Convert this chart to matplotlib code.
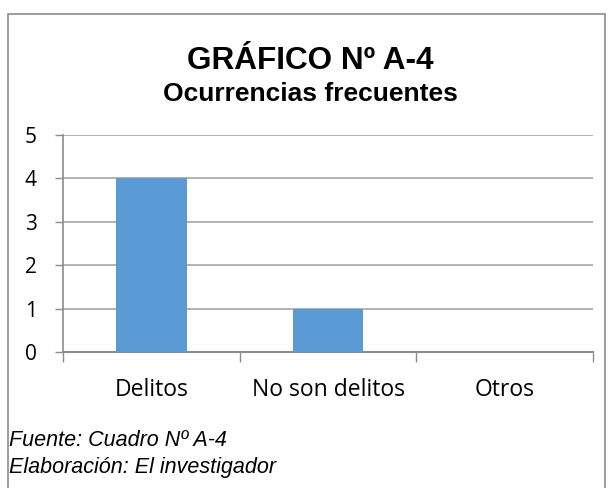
import matplotlib as mpl
mpl.use('Agg')
import matplotlib.pyplot as plt
from matplotlib.patches import Rectangle

categorias = ['Delitos', 'No son delitos', 'Otros']
valores = [4, 1, 0]
yticks = [0, 1, 2, 3, 4, 5]

titulo = 'GRÁFICO Nº A-4'
subtitulo = 'Ocurrencias frecuentes'
fuente = 'Fuente: Cuadro Nº A-4'
elaboracion = 'Elaboración: El investigador'

fig = plt.figure(figsize=(6.12, 4.88), dpi=100)
W, H = 612, 488

# borde del grafico (la parte inferior queda fuera de la imagen)
fig.patches.append(Rectangle((8 / W, -0.05), 597 / W, 1.05 - 14 / H,
                             transform=fig.transFigure, fill=False,
                             edgecolor='#8c8c8c', linewidth=1.2))

ax = fig.add_axes([63 / W, 1 - 352 / H, 530 / W, 217 / H])
x = range(len(categorias))
ax.bar(x, valores, width=0.4, color='#5B9BD5', zorder=3)

ax.set_xlim(-0.5, len(categorias) - 0.5)
ax.set_ylim(0, 5)
ax.set_yticks(yticks)
ax.set_yticklabels([str(v) for v in yticks], fontfamily='Open Sans', fontsize=15)
ax.yaxis.grid(True, color='#a6a6a6', linewidth=1.2, zorder=0)

ax.set_xticks([i - 0.5 for i in range(len(categorias) + 1)], minor=False)
ax.set_xticklabels([])
ax.set_xticks(list(x), minor=True)
ax.set_xticklabels(categorias, minor=True, fontfamily='Open Sans', fontsize=16.5)
ax.tick_params(axis='x', which='major', length=7, color='#8c8c8c', width=1)
ax.tick_params(axis='x', which='minor', length=0, pad=19)
ax.tick_params(axis='y', length=6, color='#8c8c8c', width=1, pad=13)

for s in ['top', 'right']:
    ax.spines[s].set_visible(False)
ax.spines['left'].set_color('#8c8c8c')
ax.spines['bottom'].set_color('#8c8c8c')
ax.spines['left'].set_linewidth(1.2)
ax.spines['bottom'].set_linewidth(1.5)

fig.text(310 / W, 1 - 61 / H, titulo, ha='center', va='center',
         fontfamily='Liberation Sans', fontweight='bold', fontsize=22.7)
fig.text(310 / W, 1 - 94 / H, subtitulo, ha='center', va='center',
         fontfamily='Liberation Sans', fontweight='bold', fontsize=19)

fig.text(9 / W, 1 - 441 / H, fuente, ha='left', va='center',
         fontfamily='Liberation Sans', fontstyle='italic', fontsize=15.5)
fig.text(9 / W, 1 - 467 / H, elaboracion, ha='left', va='center',
         fontfamily='Liberation Sans', fontstyle='italic', fontsize=15.5)

fig.savefig('out.png', dpi=100)
